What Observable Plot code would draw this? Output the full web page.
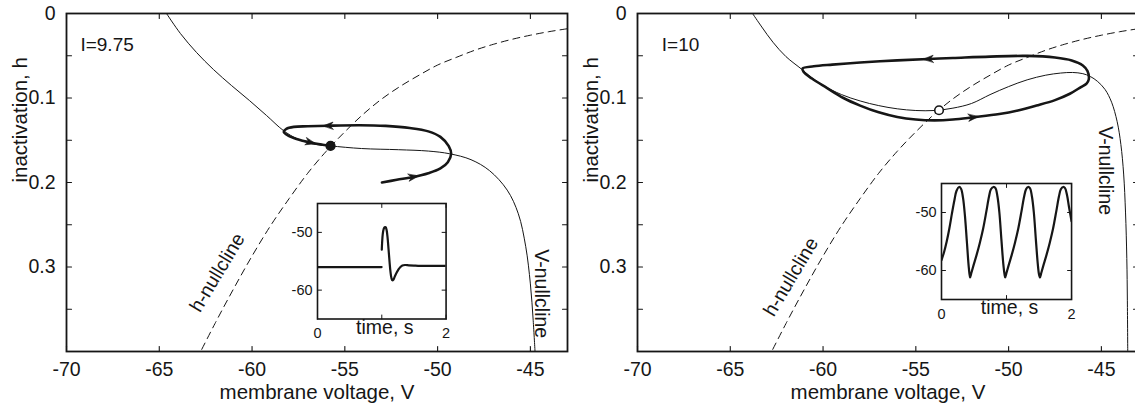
<!DOCTYPE html>
<html><head><meta charset="utf-8">
<script src="https://cdn.jsdelivr.net/npm/d3@7"></script>
<script src="https://cdn.jsdelivr.net/npm/@observablehq/plot@0.6"></script>
<style>
html,body{margin:0;padding:0;background:#fff;overflow:hidden}
#fig{position:relative;width:1135px;height:408px;overflow:hidden;background:#fff}
#fig svg{position:absolute}
</style></head>
<body><div id="fig"></div>
<script>
// ---------- data ----------
const X_TICKS = [-70, -65, -60, -55, -50, -45];
const Y_LABEL_TICKS = [0, 0.1, 0.2, 0.3];
const Y_MINOR_TICKS = [0.05, 0.1, 0.15, 0.2, 0.25, 0.3, 0.35];
const INSET_T_LABELS = [0, 2];
const INSET_T_TICKS = [0, 1, 2];
const INSET_V_TICKS = [-60, -50];
const X_LABEL = "membrane voltage, V";
const Y_LABEL = "inactivation, h";
const T_LABEL = "time, s";

// h-nullcline (same in both panels)
const hNullV = [-63, -62, -61, -60, -59, -58, -57, -56, -55, -54, -53, -52, -51, -50, -49, -48, -47, -46, -45, -44, -43];
const hNullH = [0.410, 0.367, 0.326, 0.287, 0.251, 0.219, 0.189, 0.163, 0.140, 0.119, 0.101, 0.086, 0.073, 0.061, 0.052, 0.0435, 0.0365, 0.0306, 0.0257, 0.0215, 0.018];

// panel 1, I = 9.75
const vNull1V = [-64.61, -63.86, -62.99, -62.08, -61.11, -60.14, -59.22, -58.31, -57.55, -56.7, -55.77, -54.1, -52.1, -50.5, -49.35, -48.2, -47.2, -46.25, -45.65, -45.25, -45.0, -44.85, -44.75];
const vNull1H = [0, 0.0237, 0.0462, 0.0663, 0.0852, 0.103, 0.1207, 0.1385, 0.1485, 0.1545, 0.1567, 0.1598, 0.1612, 0.1628, 0.166, 0.173, 0.186, 0.209, 0.237, 0.276, 0.32, 0.363, 0.4];
const traj1V = [-53.0, -52.2, -51.3, -50.5, -49.85, -49.45, -49.27, -49.4, -49.85, -50.5, -51.5, -52.8, -54.2, -55.9, -57.0, -57.75, -58.15, -58.29, -58.05, -57.6, -56.85, -56.2, -55.77];
const traj1H = [0.2, 0.1968, 0.1934, 0.189, 0.1834, 0.176, 0.166, 0.157, 0.146, 0.1395, 0.1355, 0.133, 0.1322, 0.1328, 0.1335, 0.1342, 0.1365, 0.14, 0.1445, 0.1485, 0.1527, 0.1553, 0.1567];
const arrows1V = [-51.3, -55.9, -56.85];
const arrows1H = [0.1934, 0.1328, 0.1527];
const fixed1 = [-55.77, 0.1567];
const inset1FlatT = [0, 0.997];
const inset1FlatV = [-56, -56];
const inset1SpikeT = [1.0, 1.005, 1.015, 1.03, 1.045, 1.06, 1.075, 1.09, 1.105, 1.12, 1.135, 1.15, 1.165, 1.18, 1.20, 1.23, 1.26, 1.29, 1.32, 1.36, 1.42, 1.5, 1.6, 1.8, 2.0];
const inset1SpikeV = [-53.0, -51.8, -50.3, -49.4, -49.1, -49.1, -49.6, -50.9, -52.9, -55.0, -56.8, -57.9, -58.3, -58.2, -57.7, -57.0, -56.4, -56.0, -55.75, -55.65, -55.7, -55.75, -55.8, -55.8, -55.8];

// panel 2, I = 10
const vNull2V = [-63.8, -63.3, -62.7, -62.0, -61.15, -60.7, -60.0, -59.0, -58.0, -57.0, -56.0, -55.0, -54.0, -53.0, -52.0, -51.0, -50.0, -49.0, -48.0, -47.2, -46.55, -46.0, -45.6, -45.2, -44.8, -44.45, -44.15, -43.95, -43.8, -43.7, -43.63, -43.6, -43.58];
const vNull2H = [0, 0.016, 0.034, 0.051, 0.066, 0.0745, 0.085, 0.096, 0.1035, 0.109, 0.1128, 0.1148, 0.1148, 0.112, 0.1065, 0.096, 0.0865, 0.0785, 0.073, 0.0705, 0.0698, 0.0712, 0.0745, 0.0805, 0.09, 0.105, 0.128, 0.155, 0.19, 0.235, 0.29, 0.34, 0.4];
const cycle2V = [-45.68, -45.75, -46.0, -46.6, -47.5, -49.0, -51.0, -53.0, -54.33, -56.0, -58.0, -59.5, -60.5, -61.1, -61.05, -60.6, -59.8, -58.9, -58.0, -57.0, -56.0, -55.0, -54.0, -53.0, -51.9, -50.5, -49.5, -48.5, -47.5, -46.7, -46.1, -45.8];
const cycle2H = [0.078, 0.068, 0.0615, 0.0555, 0.052, 0.0502, 0.051, 0.0527, 0.0538, 0.0555, 0.058, 0.0605, 0.0625, 0.065, 0.069, 0.077, 0.088, 0.1, 0.109, 0.117, 0.1225, 0.1255, 0.1265, 0.1255, 0.1228, 0.119, 0.1148, 0.109, 0.1025, 0.095, 0.087, 0.083];
const arrows2V = [-54.33, -51.9];
const arrows2H = [0.0538, 0.1228];
const fixed2 = [-53.75, 0.1145];
const inset2T = [0, 0.04, 0.08, 0.12, 0.16, 0.20, 0.23, 0.27, 0.30, 0.33, 0.36, 0.39, 0.42, 0.44, 0.46, 0.49, 0.54, 0.59, 0.64, 0.69, 0.73, 0.76, 0.80, 0.83, 0.86, 0.89, 0.92, 0.95, 0.97, 0.98, 1.00, 1.03, 1.08, 1.13, 1.18, 1.23, 1.27, 1.30, 1.33, 1.36, 1.39, 1.42, 1.45, 1.48, 1.50, 1.515, 1.535, 1.565, 1.615, 1.665, 1.715, 1.765, 1.805, 1.835, 1.87, 1.90, 1.93, 1.96, 2.0];
const inset2V = [-58.2, -56.8, -55.0, -52.8, -50.2, -47.8, -46.3, -45.6, -45.9, -47.4, -50.5, -55.0, -59.5, -61.2, -60.4, -59.2, -57.3, -55.2, -52.8, -49.8, -47.3, -46.0, -45.6, -45.8, -47.2, -50.0, -54.5, -58.8, -60.7, -61.2, -60.4, -59.2, -57.3, -55.2, -52.8, -49.8, -47.3, -46.0, -45.6, -45.8, -47.2, -50.0, -54.5, -58.8, -60.7, -61.2, -60.4, -59.2, -57.3, -55.2, -52.8, -49.8, -47.3, -46.0, -45.6, -45.8, -47.0, -49.0, -51.5];

// ---------- layout ----------
const mainW = 600, mainH = 408, mL = 66, mR = 33, mT = 13, mB = 57;
const xDom = [-70, -43], yDom = [0, 0.4];
const kx = (mainW - mL - mR) / (xDom[1] - xDom[0]);
const ky = (mainH - mT - mB) / (yDom[1] - yDom[0]);
const INK = "#161616";
const FONT = '"Liberation Sans", Arial, Helvetica, sans-serif';

const zip = (a, b) => a.map((v, i) => ({V: v, h: b[i]}));
const tickShape = {draw(ctx, l) { ctx.moveTo(0, 0); ctx.lineTo(0, -l); }};
const headShape = {draw(ctx, l, r) {
  ctx.moveTo(0, -l); ctx.lineTo(r, 0); ctx.lineTo(0, -l * 0.3); ctx.lineTo(-r, 0); ctx.closePath();
}};

function heading(pts, V, h, closed) {
  const n = pts.length, m = closed ? n : n - 1;
  let best = Infinity, bi = 0;
  for (let i = 0; i < m; i++) {
    const a = pts[i], b = pts[(i + 1) % n];
    const ax = a.V * kx, ay = a.h * ky, bx = b.V * kx, by = b.h * ky, px = V * kx, py = h * ky;
    const dx = bx - ax, dy = by - ay, L2 = dx * dx + dy * dy || 1;
    let t = ((px - ax) * dx + (py - ay) * dy) / L2; t = Math.max(0, Math.min(1, t));
    const d = Math.hypot(ax + t * dx - px, ay + t * dy - py);
    if (d < best) { best = d; bi = i; }
  }
  const a = pts[bi], b = pts[(bi + 1) % n];
  return Math.atan2((b.V - a.V) * kx, -(b.h - a.h) * ky) * 180 / Math.PI;
}

function frameTicks(xs, ys, xLeft, xRight, yBottom, yTop, len, sw) {
  const o = {length: len, anchor: "start", shape: tickShape, stroke: INK, strokeWidth: sw};
  return [
    Plot.vector(xs, {...o, x: d => d, y: () => yBottom, rotate: 0}),
    Plot.vector(xs, {...o, x: d => d, y: () => yTop, rotate: 180}),
    Plot.vector(ys, {...o, x: () => xLeft, y: d => d, rotate: 90}),
    Plot.vector(ys, {...o, x: () => xRight, y: d => d, rotate: 270})
  ];
}

function panel(p) {
  const traj = zip(p.trajV, p.trajH);
  const arrows = p.arrowV.map((v, i) => ({V: v, h: p.arrowH[i], a: heading(traj, v, p.arrowH[i], p.closed)}));
  return Plot.plot({
    width: mainW, height: mainH,
    marginLeft: mL, marginRight: mR, marginTop: mT, marginBottom: mB,
    x: {domain: xDom},
    y: {domain: yDom, reverse: true},
    style: {fontFamily: FONT, fontSize: "19px", color: INK, background: "transparent", overflow: "visible"},
    marks: [
      Plot.line(zip(hNullV, hNullH), {x: "V", y: "h", stroke: INK, strokeWidth: 1, strokeDasharray: "7,5", curve: "catmull-rom", clip: true}),
      Plot.line(zip(p.vNullV, p.vNullH), {x: "V", y: "h", stroke: INK, strokeWidth: 1, curve: "catmull-rom", clip: true}),
      Plot.line(traj, {x: "V", y: "h", stroke: INK, strokeWidth: 2.6, curve: p.closed ? "catmull-rom-closed" : "catmull-rom"}),
      Plot.vector(arrows, {x: "V", y: "h", rotate: "a", length: 10, r: 3.6, anchor: "middle", shape: headShape, fill: INK, stroke: INK, strokeWidth: 0.6}),
      Plot.dot([p.fixed], {x: d => d[0], y: d => d[1], r: 4.3, fill: p.fixedFill, stroke: INK, strokeWidth: 1.6}),
      ...frameTicks(X_TICKS, Y_MINOR_TICKS, xDom[0], xDom[1], yDom[1], yDom[0], 5, 1.1),
      Plot.frame({stroke: INK, strokeWidth: 1.8}),
      Plot.axisX({ticks: X_TICKS, tickSize: 0, tickPadding: 11, tickFormat: d => String(d), fontSize: 19.5, label: null}),
      Plot.axisY({anchor: "left", ticks: Y_LABEL_TICKS, tickSize: 0, tickPadding: 11, tickFormat: d => String(d), fontSize: 19.5, label: null}),
      Plot.text([X_LABEL], {text: d => d, frameAnchor: "bottom", dy: 41, fontSize: 20.5, fill: INK, lineAnchor: "middle"}),
      Plot.text([Y_LABEL], {text: d => d, frameAnchor: "left", dx: -46, rotate: -90, fontSize: 20.5, fill: INK, lineAnchor: "middle"}),
      Plot.text([p.iLabel], {x: d => d.V, y: d => d.h, text: d => d.t, textAnchor: "start", lineAnchor: "middle", fontSize: 19, fill: INK}),
      Plot.text([p.hLabel], {x: d => d.V, y: d => d.h, text: d => d.t, rotate: -59, textAnchor: "middle", lineAnchor: "middle", fontSize: 19.5, fill: INK}),
      Plot.text([p.vLabel], {x: d => d.V, y: d => d.h, text: d => d.t, rotate: 90, textAnchor: "middle", lineAnchor: "middle", fontSize: 19.5, fill: INK})
    ]
  });
}

function inset(p, chart, panelLeft) {
  const sx = chart.scale("x"), sy = chart.scale("y");
  const x1 = sx.apply(p.box[0]), x2 = sx.apply(p.box[1]);
  const y1 = sy.apply(p.box[2]), y2 = sy.apply(p.box[3]);
  const iL = 36, iR = 8, iT = 6, iB = 36;
  const tDom = [0, 2], vDom = [-65, -45];
  const svg = Plot.plot({
    width: x2 - x1 + iL + iR, height: y2 - y1 + iT + iB,
    marginLeft: iL, marginRight: iR, marginTop: iT, marginBottom: iB,
    x: {domain: tDom}, y: {domain: vDom},
    style: {fontFamily: FONT, fontSize: "14px", color: INK, background: "transparent", overflow: "visible"},
    marks: [
      Plot.frame({fill: "white", stroke: "none"}),
      ...p.series.map(s => Plot.line(s[0].map((t, i) => ({t, v: s[1][i]})), {x: "t", y: "v", stroke: INK, strokeWidth: 2.2, curve: "catmull-rom", clip: true})),
      ...frameTicks(INSET_T_TICKS, INSET_V_TICKS, tDom[0], tDom[1], vDom[0], vDom[1], 4, 1),
      Plot.frame({stroke: INK, strokeWidth: 1.6}),
      Plot.axisX({ticks: INSET_T_LABELS, tickSize: 0, tickPadding: 9, tickFormat: d => String(d), fontSize: 14.5, label: null}),
      Plot.axisY({anchor: "left", ticks: INSET_V_TICKS, tickSize: 0, tickPadding: 5, tickFormat: d => String(d), fontSize: 14.5, label: null}),
      Plot.text([T_LABEL], {text: d => d, frameAnchor: "bottom", dy: 8.5, dx: 3, fontSize: 19.5, fill: INK, lineAnchor: "middle"})
    ]
  });
  svg.style.left = (panelLeft + x1 - iL) + "px";
  svg.style.top = (y1 - iT) + "px";
  return svg;
}

const fig = document.getElementById("fig");

const p1 = {
  vNullV: vNull1V, vNullH: vNull1H, trajV: traj1V, trajH: traj1H, closed: false,
  arrowV: arrows1V, arrowH: arrows1H, fixed: fixed1, fixedFill: INK,
  iLabel: {V: -69.25, h: 0.037, t: "I=9.75"},
  hLabel: {V: -61.87, h: 0.3067, t: "h-nullcline"},
  vLabel: {V: -44.39, h: 0.3316, t: "V-nullcline"}
};
const p2 = {
  vNullV: vNull2V, vNullH: vNull2H, trajV: cycle2V, trajH: cycle2H, closed: true,
  arrowV: arrows2V, arrowH: arrows2H, fixed: fixed2, fixedFill: "white",
  iLabel: {V: -68.69, h: 0.037, t: "I=10"},
  hLabel: {V: -61.73, h: 0.3118, t: "h-nullcline"},
  vLabel: {V: -44.77, h: 0.186, t: "V-nullcline"}
};

const c1 = panel(p1); c1.style.left = "0px"; c1.style.top = "0px"; fig.appendChild(c1);
const c2 = panel(p2); c2.style.left = "571px"; c2.style.top = "0px"; fig.appendChild(c2);

fig.appendChild(inset({box: [-56.45, -49.52, 0.2254, 0.3621],
  series: [[inset1FlatT, inset1FlatV], [inset1SpikeT, inset1SpikeV]]}, c1, 0));
fig.appendChild(inset({box: [-53.62, -46.61, 0.2012, 0.3385],
  series: [[inset2T, inset2V]]}, c2, 571));
</script>
</body></html>
